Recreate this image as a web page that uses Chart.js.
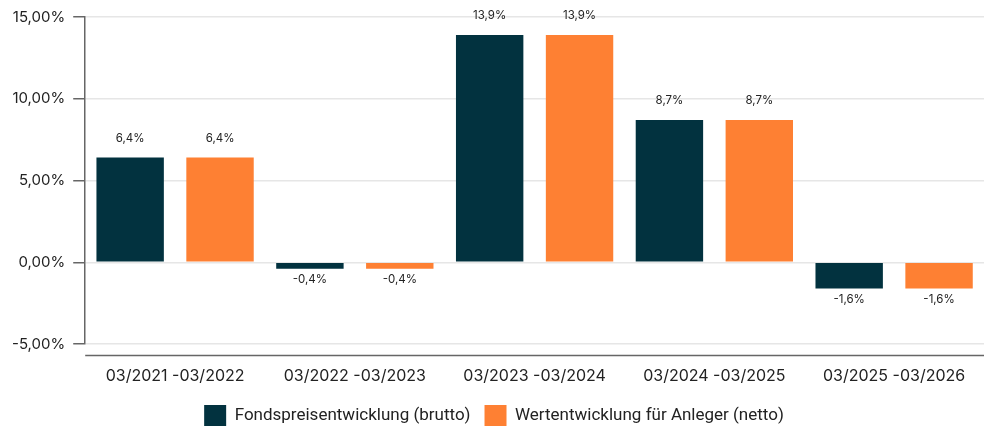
<!DOCTYPE html>
<html>
<head>
<meta charset="utf-8">
<script src="https://cdn.jsdelivr.net/npm/chart.js@4"></script>
<style>
  html, body { margin: 0; padding: 0; background: #fff; }
  #wrap { width: 993px; height: 429px; }
</style>
</head>
<body>
<div id="wrap"><canvas id="chart"></canvas></div>
<script>
// Zeiträume und Werte (in %)
const periods = ['03/2021 -03/2022', '03/2022 -03/2023', '03/2023 -03/2024', '03/2024 -03/2025', '03/2025 -03/2026'];
const brutto = [6.4, -0.4, 13.9, 8.7, -1.6];
const netto = [6.4, -0.4, 13.9, 8.7, -1.6];

const fontFamily = 'Inter, "Noto Sans", sans-serif';

function fmt(v, digits) {
    return v.toFixed(digits).replace('.', ',') + '%';
}

// Wertbeschriftungen über/unter den Balken
const valueLabels = {
    id: 'valueLabels',
    afterDatasetsDraw(chart) {
        const ctx = chart.ctx;
        ctx.save();
        ctx.font = '11.5px ' + fontFamily;
        ctx.fillStyle = '#222';
        ctx.textAlign = 'center';
        ctx.textBaseline = 'middle';
        chart.data.datasets.forEach((ds, i) => {
            chart.getDatasetMeta(i).data.forEach((bar, j) => {
                const v = ds.data[j];
                const y = v >= 0 ? bar.y - 19 : bar.y + 11;
                ctx.fillText(fmt(v, 1), bar.x, y);
            });
        });
        ctx.restore();
    }
};

// abgesetzte x-Achsenlinie unterhalb des Diagramms
const baseLine = {
    id: 'baseLine',
    afterDraw(chart) {
        const a = chart.chartArea;
        const ctx = chart.ctx;
        ctx.save();
        ctx.strokeStyle = '#666';
        ctx.lineWidth = 1.5;
        ctx.beginPath();
        ctx.moveTo(a.left, a.bottom + 11.5);
        ctx.lineTo(a.right, a.bottom + 11.5);
        ctx.stroke();
        ctx.restore();
    }
};

new Chart(document.getElementById('chart'), {
    type: 'bar',
    data: {
        labels: periods,
        datasets: [
            {
                label: 'Fondspreisentwicklung (brutto)',
                data: brutto,
                backgroundColor: '#02323f'
            },
            {
                label: 'Wertentwicklung für Anleger (netto)',
                data: netto,
                backgroundColor: '#fe8033'
            }
        ]
    },
    options: {
        responsive: true,
        maintainAspectRatio: false,
        animation: false,
        categoryPercentage: 1.0,
        barPercentage: 0.75,
        layout: { padding: { top: 11, left: 4, right: 9, bottom: -7 } },
        scales: {
            x: {
                grid: { display: false, drawTicks: false },
                border: { display: false },
                ticks: {
                    padding: 23,
                    color: '#222',
                    font: { family: fontFamily, size: 16 }
                },
                afterFit: scale => { scale.height = 47; }
            },
            y: {
                min: -5,
                max: 15,
                ticks: {
                    stepSize: 5,
                    padding: 8,
                    color: '#222',
                    font: { family: fontFamily, size: 15 },
                    callback: v => fmt(v, 2)
                },
                grid: {
                    color: '#e6e6e6',
                    lineWidth: 1.5,
                    tickColor: '#666',
                    tickLength: 12
                },
                border: { color: '#666', width: 1.5 }
            }
        },
        plugins: {
            legend: {
                position: 'bottom',
                labels: {
                    boxWidth: 22,
                    boxHeight: 21,
                    padding: 14,
                    color: '#222',
                    font: { family: 'Roboto, sans-serif', size: 17 }
                }
            },
            tooltip: { enabled: false }
        }
    },
    plugins: [valueLabels, baseLine]
});
</script>
</body>
</html>
